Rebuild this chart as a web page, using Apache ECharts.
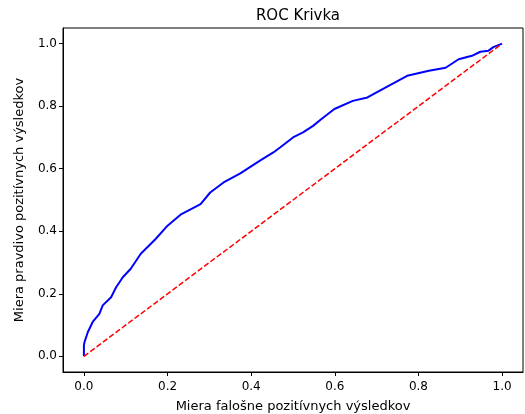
<!DOCTYPE html>
<html>
<head>
<meta charset="utf-8">
<script src="https://cdn.jsdelivr.net/npm/echarts@6/dist/echarts.min.js"></script>
<style>html,body{margin:0;padding:0;background:#fff}#c{width:525px;height:414px}</style>
</head>
<body>
<div id="c"></div>
<script>
const titleText = "ROC Krivka";
const xLabel = "Miera falošne pozitívnych výsledkov";
const yLabel = "Miera pravdivo pozitívnych výsledkov";
const tickValues = [0, 0.2, 0.4, 0.6, 0.8, 1.0];
const fpr = [0, 0, 0.0015, 0.0095, 0.021, 0.037, 0.045, 0.065, 0.077, 0.093, 0.112, 0.136, 0.172, 0.2, 0.231, 0.279, 0.302, 0.334, 0.374, 0.421, 0.453, 0.469, 0.5, 0.524, 0.548, 0.568, 0.599, 0.643, 0.678, 0.722, 0.773, 0.825, 0.865, 0.896, 0.928, 0.948, 0.967, 0.979, 1.0];
const tpr = [0, 0.035, 0.046, 0.078, 0.11, 0.136, 0.163, 0.189, 0.221, 0.253, 0.28, 0.328, 0.376, 0.418, 0.453, 0.487, 0.524, 0.556, 0.585, 0.626, 0.652, 0.668, 0.7, 0.716, 0.737, 0.759, 0.791, 0.817, 0.828, 0.86, 0.897, 0.913, 0.923, 0.95, 0.961, 0.974, 0.977, 0.989, 1.0];
const diagX = [0, 1];
const diagY = [0, 1];

const chart = echarts.init(document.getElementById('c'), null, {renderer: 'canvas'});
const font = 'DejaVu Sans';
const axisCommon = {
  type: 'value', min: -0.05, max: 1.05,
  splitLine: {show: false},
  axisLine: {show: true, onZero: false, lineStyle: {color: '#000', width: 1}},
  axisTick: {show: true, inside: false, length: 4, customValues: tickValues, lineStyle: {color: '#000', width: 1}},
  axisLabel: {show: true, customValues: tickValues, formatter: v => v.toFixed(1), color: '#000', fontFamily: font, fontSize: 12},
  nameLocation: 'middle',
  nameTextStyle: {color: '#000', fontFamily: font, fontSize: 13}
};
chart.setOption({
  animation: false,
  title: {text: titleText, top: 4, left: 293, textAlign: 'center', textStyle: {color: '#000', fontFamily: font, fontSize: 15, fontWeight: 'normal'}},
  grid: {left: 63, right: 2, top: 28, bottom: 42, show: true, borderColor: '#000', borderWidth: 1, outerBoundsMode: 'none', containLabel: false},
  xAxis: Object.assign({}, axisCommon, {name: xLabel, nameGap: 28, axisLabel: Object.assign({}, axisCommon.axisLabel, {margin: 9})}),
  yAxis: Object.assign({}, axisCommon, {name: yLabel, nameGap: 37, axisLabel: Object.assign({}, axisCommon.axisLabel, {margin: 6})}),
  series: [
    {type: 'line', data: fpr.map((x, i) => [x, tpr[i]]), showSymbol: false, lineStyle: {color: '#0000ff', width: 2}, itemStyle: {color: '#0000ff'}},
    {type: 'line', data: diagX.map((x, i) => [x, diagY[i]]), showSymbol: false, lineStyle: {color: '#ff0000', width: 1.5, type: [5.5, 2.4]}, itemStyle: {color: '#ff0000'}}
  ]
});
</script>
</body>
</html>
